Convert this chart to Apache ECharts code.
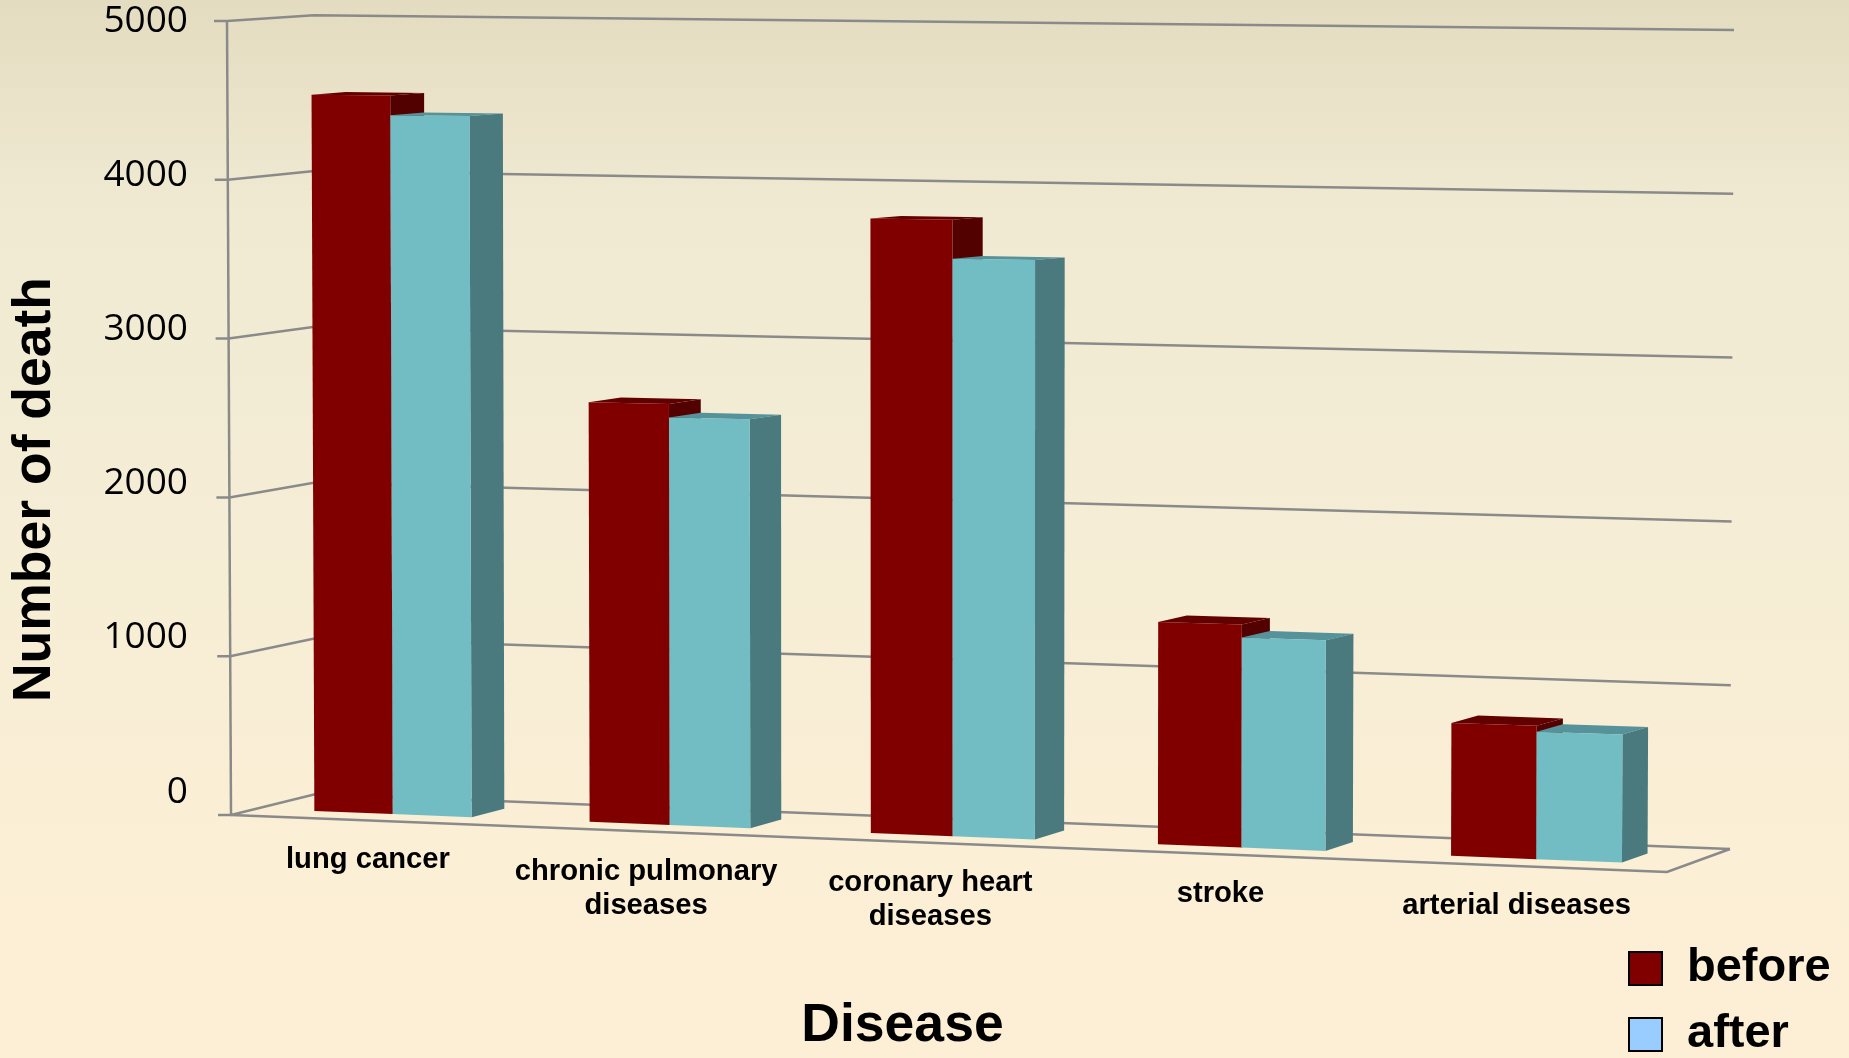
<!DOCTYPE html>
<html>
<head>
<meta charset="utf-8">
<style>html,body{margin:0;padding:0;background:#fdefd6}#chart{width:1849px;height:1058px}</style>
<script src="https://cdn.jsdelivr.net/npm/echarts@6/dist/echarts.min.js"></script>
</head>
<body>
<div id="chart"></div>
<script>
// Deaths per disease, before and after
const categories = ['lung cancer', 'chronic pulmonary\ndiseases', 'coronary heart\ndiseases', 'stroke', 'arterial diseases'];
const before = [4525, 2620, 3790, 1355, 800];
const after = [4400, 2535, 3550, 1275, 765];
const yTicks = [0, 1000, 2000, 3000, 4000, 5000];

// Perspective box: pixel corners of the plot volume (front/back, left/right, bottom/top)
const box = {
  flb: [231, 815], flt: [227, 21], frb: [1667, 872], frt: [1670, 25],
  blb: [316, 794], blt: [314, 15.3], brb: [1730, 849], brt: [1734, 30]
};
const BAR_WIDTH = 0.287;          // single bar width, in category bands
const DEPTH_NEAR = 0.3, DEPTH_FAR = 0.7;
const WARP = 0.052;               // foreshortening along the x direction

const mix = (a, b, k) => [a[0] + (b[0] - a[0]) * k, a[1] + (b[1] - a[1]) * k];

// Map a position on the flat grid plus a depth into the perspective box
function project(coordSys, px, py, depth) {
  const c = (px - coordSys.x) / coordSys.width;
  const u = c - WARP * c * (1 - c);
  const t = (coordSys.y + coordSys.height - py) / coordSys.height;
  const front = mix(mix(box.flb, box.frb, u), mix(box.flt, box.frt, u), t);
  const back = mix(mix(box.blb, box.brb, u), mix(box.blt, box.brt, u), t);
  return mix(front, back, depth);
}

const polygon = (points, fill) => ({
  type: 'polygon', shape: { points }, style: { fill, stroke: null }
});
const line = (points) => ({
  type: 'polyline', shape: { points },
  style: { fill: null, stroke: '#8a8a8a', lineWidth: 2.5 }
});

// One prism per value: top and side faces recede from the front face
function barRenderer(side, colors) {
  return function (params, api) {
    const cs = params.coordSys;
    const i = api.value(0), v = api.value(1);
    const base = api.coord([i, 0]), top = api.coord([i, v]);
    const width = BAR_WIDTH * api.size([1, 0])[0];
    const x0 = base[0] + (side < 0 ? -width : 0);
    const x1 = x0 + width;
    const P = (x, y, d) => project(cs, x, y, d);
    return {
      type: 'group',
      children: [
        polygon([P(x0, top[1], DEPTH_NEAR), P(x1, top[1], DEPTH_NEAR), P(x1, top[1], DEPTH_FAR), P(x0, top[1], DEPTH_FAR)], colors.top),
        polygon([P(x1, base[1], DEPTH_NEAR), P(x1, top[1], DEPTH_NEAR), P(x1, top[1], DEPTH_FAR), P(x1, base[1], DEPTH_FAR)], colors.side),
        polygon([P(x0, base[1], DEPTH_NEAR), P(x1, base[1], DEPTH_NEAR), P(x1, top[1], DEPTH_NEAR), P(x0, top[1], DEPTH_NEAR)], colors.front)
      ]
    };
  };
}

// Wall gridlines with their ticks, plus the floor outline and the left edge
function wallRenderer(params, api) {
  const cs = params.coordSys;
  const v = api.value(1);
  const y = api.coord([0, v])[1];
  const xL = cs.x, xR = cs.x + cs.width;
  const fl = project(cs, xL, y, 0), bl = project(cs, xL, y, 1), br = project(cs, xR, y, 1);
  const children = [line([[fl[0] - 13, fl[1]], fl, bl, br])];
  if (v === yTicks[0]) {
    children.push(line([fl, project(cs, xR, y, 0), br]));
    const yMax = api.coord([0, yTicks[yTicks.length - 1]])[1];
    children.push(line([fl, project(cs, xL, yMax, 0)]));
  }
  return { type: 'group', children };
}

// Category names follow the sloped front edge of the floor
function labelRenderer(params, api) {
  const cs = params.coordSys;
  const i = api.value(0);
  const c = api.coord([i, 0]);
  const p = project(cs, c[0], c[1], 0);
  return {
    type: 'text',
    x: p[0], y: p[1] + 23,
    style: {
      text: categories[i], align: 'center', verticalAlign: 'top',
      font: 'bold 29.2px "Liberation Sans", Arial, sans-serif', lineHeight: 34, fill: '#000'
    }
  };
}

const chart = echarts.init(document.getElementById('chart'), null, { renderer: 'canvas' });
chart.setOption({
  animation: false,
  backgroundColor: {
    type: 'linear', x: 0, y: 0, x2: 0, y2: 1,
    colorStops: [
      { offset: 0, color: '#e4dcc0' },
      { offset: 0.2, color: '#f0ead3' },
      { offset: 0.5, color: '#f5edd5' },
      { offset: 0.8, color: '#fbefd5' },
      { offset: 1, color: '#fdefd6' }
    ]
  },
  grid: { left: 227, top: 21, right: 182, bottom: 243 },
  legend: {
    left: 1628, top: 945, height: 200, padding: 0, orient: 'vertical', selectedMode: false,
    icon: 'rect', itemWidth: 33, itemHeight: 33, itemGap: 19,
    textStyle: { fontFamily: '"Liberation Sans", Arial, sans-serif', fontWeight: 'bold', fontSize: 47, lineHeight: 33, color: '#000', padding: [0, 0, 0, 20] },
    data: [
      { name: 'before', itemStyle: { color: '#800000', borderColor: '#000', borderWidth: 2 } },
      { name: 'after', itemStyle: { color: '#99ccff', borderColor: '#000', borderWidth: 2 } }
    ]
  },
  xAxis: {
    type: 'category', data: categories,
    axisLine: { show: false }, axisTick: { show: false }, axisLabel: { show: false },
    name: 'Disease', nameLocation: 'middle', nameGap: 207,
    nameTextStyle: { fontFamily: '"Liberation Sans", Arial, sans-serif', fontWeight: 'bold', fontSize: 53.5, color: '#000', padding: [0, 90, 0, 0] }
  },
  yAxis: {
    type: 'value', min: 0, max: 5000, interval: 1000,
    axisLine: { show: false }, axisTick: { show: false }, splitLine: { show: false },
    axisLabel: {
      margin: 40, fontFamily: '"Open Sans", sans-serif', fontSize: 37, color: '#000',
      verticalAlign: 'middle', verticalAlignMinLabel: 'middle', verticalAlignMaxLabel: 'middle',
      formatter: (v) => String(v)
    },
    name: 'Number of death', nameLocation: 'middle', nameGap: 166,
    nameTextStyle: { fontFamily: '"Liberation Sans", Arial, sans-serif', fontWeight: 'bold', fontSize: 53.5, color: '#000', padding: [0, 166, 0, 0] }
  },
  series: [
    { type: 'custom', name: 'grid', silent: true, clip: false, z: 1, renderItem: wallRenderer, data: yTicks.map(v => [0, v]) },
    {
      type: 'custom', name: 'before', clip: false, z: 2,
      itemStyle: { color: '#800000' },
      renderItem: barRenderer(-1, { front: '#800000', top: '#620000', side: '#530000' }),
      data: before.map((v, i) => [i, v])
    },
    {
      type: 'custom', name: 'after', clip: false, z: 3,
      itemStyle: { color: '#99ccff' },
      renderItem: barRenderer(1, { front: '#72bdc4', top: '#56929a', side: '#4a797e' }),
      data: after.map((v, i) => [i, v])
    },
    { type: 'custom', name: 'labels', silent: true, clip: false, z: 4, renderItem: labelRenderer, data: categories.map((_, i) => [i, 0]) }
  ]
});
</script>
</body>
</html>
